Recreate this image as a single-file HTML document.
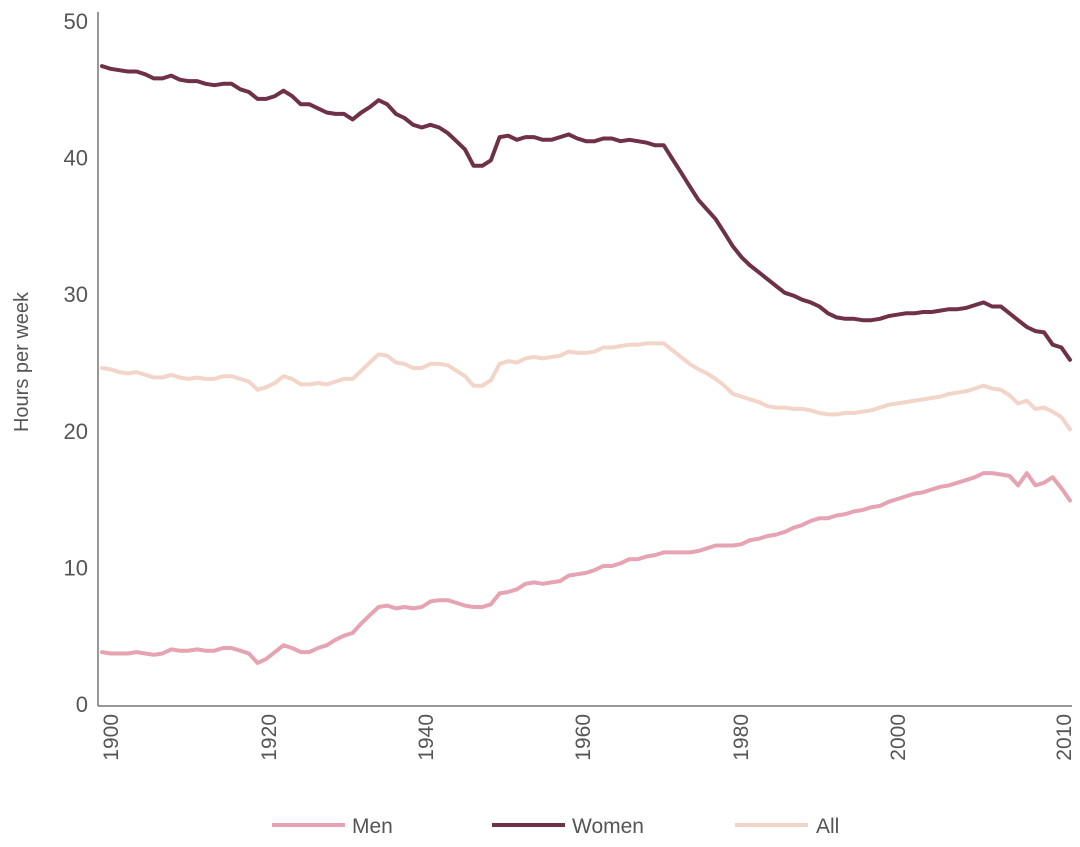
<!DOCTYPE html>
<html><head><meta charset="utf-8"><style>
body{margin:0;background:#fff;}
svg{display:block;font-family:"Liberation Sans",sans-serif;}
</style></head><body>
<svg width="1080" height="847" viewBox="0 0 1080 847">
<g id="axes"></g><g id="series"></g><g id="legend"></g>
</svg>
<script>
const startYear = 1900;
const men = [3.8,3.7,3.7,3.7,3.8,3.7,3.6,3.7,4.0,3.9,3.9,4.0,3.9,3.9,4.1,4.1,3.9,3.7,3.0,3.3,3.8,4.3,4.1,3.8,3.8,4.1,4.3,4.7,5.0,5.2,5.9,6.5,7.1,7.2,7.0,7.1,7.0,7.1,7.5,7.6,7.6,7.4,7.2,7.1,7.1,7.3,8.1,8.2,8.4,8.8,8.9,8.8,8.9,9.0,9.4,9.5,9.6,9.8,10.1,10.1,10.3,10.6,10.6,10.8,10.9,11.1,11.1,11.1,11.1,11.2,11.4,11.6,11.6,11.6,11.7,12.0,12.1,12.3,12.4,12.6,12.9,13.1,13.4,13.6,13.6,13.8,13.9,14.1,14.2,14.4,14.5,14.8,15.0,15.2,15.4,15.5,15.7,15.9,16.0,16.2,16.4,16.6,16.9,16.9,16.8,16.7,16.0,16.9,16.0,16.2,16.6,15.8,14.9];
const women = [46.7,46.5,46.4,46.3,46.3,46.1,45.8,45.8,46.0,45.7,45.6,45.6,45.4,45.3,45.4,45.4,45.0,44.8,44.3,44.3,44.5,44.9,44.5,43.9,43.9,43.6,43.3,43.2,43.2,42.8,43.3,43.7,44.2,43.9,43.2,42.9,42.4,42.2,42.4,42.2,41.8,41.2,40.6,39.4,39.4,39.8,41.5,41.6,41.3,41.5,41.5,41.3,41.3,41.5,41.7,41.4,41.2,41.2,41.4,41.4,41.2,41.3,41.2,41.1,40.9,40.9,39.9,38.9,37.9,36.9,36.2,35.5,34.5,33.5,32.7,32.1,31.6,31.1,30.6,30.1,29.9,29.6,29.4,29.1,28.6,28.3,28.2,28.2,28.1,28.1,28.2,28.4,28.5,28.6,28.6,28.7,28.7,28.8,28.9,28.9,29.0,29.2,29.4,29.1,29.1,28.6,28.1,27.6,27.3,27.2,26.3,26.1,25.2];
const all = [24.6,24.5,24.3,24.2,24.3,24.1,23.9,23.9,24.1,23.9,23.8,23.9,23.8,23.8,24.0,24.0,23.8,23.6,23.0,23.2,23.5,24.0,23.8,23.4,23.4,23.5,23.4,23.6,23.8,23.8,24.4,25.0,25.6,25.5,25.0,24.9,24.6,24.6,24.9,24.9,24.8,24.4,24.0,23.3,23.3,23.7,24.9,25.1,25.0,25.3,25.4,25.3,25.4,25.5,25.8,25.7,25.7,25.8,26.1,26.1,26.2,26.3,26.3,26.4,26.4,26.4,25.9,25.4,24.9,24.5,24.2,23.8,23.3,22.7,22.5,22.3,22.1,21.8,21.7,21.7,21.6,21.6,21.5,21.3,21.2,21.2,21.3,21.3,21.4,21.5,21.7,21.9,22.0,22.1,22.2,22.3,22.4,22.5,22.7,22.8,22.9,23.1,23.3,23.1,23.0,22.6,22.0,22.2,21.6,21.7,21.4,21.0,20.1];
const yTicks = [0,10,20,30,40,50];
const xTickLabels = ["1900","1920","1940","1960","1980","2000","2010"];
const xTickPos = [110,268,425,582,740,897,1063];

const NS="http://www.w3.org/2000/svg";
const nPts = men.length;
const X0=102, X1=1070, Y0=704, PX=13.66;
function xs(i){return X0+i*(X1-X0)/(nPts-1);}
function ys(v){return Y0-v*PX;}
function mk(tag,attrs,parent,text){const e=document.createElementNS(NS,tag);for(const k in attrs)e.setAttribute(k,attrs[k]);if(text!==undefined)e.textContent=text;parent.appendChild(e);return e;}
const axes=document.getElementById('axes'), ser=document.getElementById('series'), leg=document.getElementById('legend');

let ya=mk('line',{x1:98,y1:12,x2:98,y2:706,stroke:'#777','stroke-width':1.5},axes);


let xa=mk('line',{x1:98,y1:706,x2:1072,y2:706,stroke:'#777','stroke-width':1.5},axes);


yTicks.forEach(v=>{
  const t=mk('text',{x:88,y:ys(v)+8,'text-anchor':'end','font-size':22,fill:'#555'},axes,String(v));
  
  
});
xTickLabels.forEach((lab,i)=>{
  const x=xTickPos[i];
  const t=mk('text',{x:0,y:0,'text-anchor':'end','font-size':21,fill:'#555',transform:`translate(${x+8},714) rotate(-90)`},axes,lab);
  
  
});
const yt=mk('text',{x:0,y:0,'text-anchor':'middle','font-size':20,fill:'#555',transform:'translate(28,362) rotate(-90)'},axes,'Hours per week');



function line(arr,color,name){
  const d=arr.map((v,i)=>(i?'L':'M')+xs(i).toFixed(1)+' '+ys(v).toFixed(1)).join(' ');
  const p=mk('path',{d:d,fill:'none',stroke:color,'stroke-width':4,'stroke-linejoin':'round','stroke-linecap':'round'},ser);
  
  
}
line(all,'#f2d5c8','all-line');
line(men,'#e6a3b2','men-line');
line(women,'#6e3148','women-line');

[['Men','#e6a3b2',272,352],['Women','#6e3148',492,572],['All','#f2d5c8',735,816]].forEach(l=>{
  const g=mk('g',{},leg);
  
  
  mk('line',{x1:l[2],y1:825,x2:l[2]+73,y2:825,stroke:l[1],'stroke-width':4},g);
  mk('text',{x:l[3],y:833,'font-size':21,fill:'#555'},g,l[0]);
});
</script>
</body></html>
